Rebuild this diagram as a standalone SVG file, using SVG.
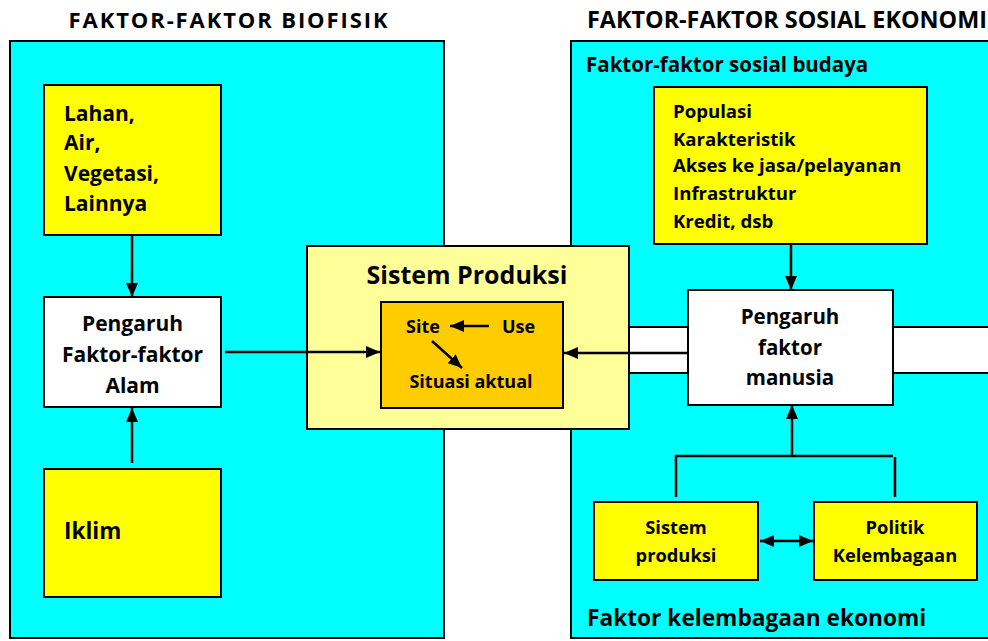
<svg xmlns="http://www.w3.org/2000/svg" width="988" height="641" viewBox="0 0 988 641">
<style>
text{font-family:"Open Sans","Noto Sans","Liberation Sans",sans-serif;font-weight:bold;fill:#000}
.panel{fill:#00FFFF;stroke:#000;stroke-width:2}
.yel{fill:#FFFF00;stroke:#000;stroke-width:2}
.wht{fill:#FFFFFF;stroke:#000;stroke-width:2}
.c{text-anchor:middle}
.ln{fill:none;stroke:#000;stroke-width:2.5}
</style>
<defs>
<marker id="ah" viewBox="0 0 14 12" refX="14" refY="6" markerWidth="14" markerHeight="12" markerUnits="userSpaceOnUse" orient="auto-start-reverse">
<path d="M0,0 L14,6 L0,12 Z" fill="#000"/>
</marker>
</defs>
<rect width="988" height="641" fill="#fff"/>
<text id="title-left" x="229" y="28" class="c" font-size="22" letter-spacing="1.9">FAKTOR-FAKTOR BIOFISIK</text>
<text id="title-right" x="787" y="28" class="c" font-size="23.4">FAKTOR-FAKTOR SOSIAL EKONOMI</text>
<g id="panel-biofisik"><rect class="panel" x="10" y="41" width="434" height="597"/></g>
<g id="panel-sosial"><rect class="panel" x="571" y="41" width="430" height="597"/>
<text x="586" y="72" font-size="20.5">Faktor-faktor sosial budaya</text>
<text x="587" y="626" font-size="22.7">Faktor kelembagaan ekonomi</text></g>
<g id="band"><rect class="wht" x="620" y="327" width="390" height="46"/></g>
<g id="lahan"><rect class="yel" x="44" y="85" width="177" height="150"/>
<text x="64" y="121" font-size="21">Lahan,</text>
<text x="64" y="150" font-size="21">Air,</text>
<text x="64" y="181" font-size="21">Vegetasi,</text>
<text x="64" y="211" font-size="21">Lainnya</text></g>
<g id="alam"><rect class="wht" x="44" y="297" width="177" height="110"/>
<text x="132.5" y="331" class="c" font-size="21">Pengaruh</text>
<text x="132.5" y="362" class="c" font-size="21">Faktor-faktor</text>
<text x="132.5" y="393" class="c" font-size="21">Alam</text></g>
<g id="iklim"><rect class="yel" x="44" y="469" width="177" height="128"/>
<text x="64" y="539" font-size="22.5">Iklim</text></g>
<g id="sistem-produksi"><rect x="307" y="246" width="322" height="183" fill="#FFFF99" stroke="#000" stroke-width="2"/>
<text x="467" y="284" class="c" font-size="25">Sistem Produksi</text></g>
<g id="situasi"><rect x="381" y="302" width="182" height="106" fill="#FFCC00" stroke="#000" stroke-width="2"/>
<text x="406" y="333" font-size="18">Site</text>
<text x="502" y="333" font-size="18">Use</text>
<text x="471" y="388" class="c" font-size="18">Situasi aktual</text></g>
<g id="populasi"><rect class="yel" x="654" y="87" width="273" height="157"/>
<text x="673" y="118" font-size="18.6">Populasi</text>
<text x="673" y="146" font-size="18.6">Karakteristik</text>
<text x="673" y="172" font-size="18.6">Akses ke jasa/pelayanan</text>
<text x="673" y="200" font-size="18.6">Infrastruktur</text>
<text x="673" y="228" font-size="18.6">Kredit, dsb</text></g>
<g id="manusia"><rect class="wht" x="688" y="290" width="205" height="115"/>
<text x="790" y="324" class="c" font-size="20.5">Pengaruh</text>
<text x="790" y="355" class="c" font-size="20.5">faktor</text>
<text x="790" y="385" class="c" font-size="20.5">manusia</text></g>
<g id="sistem-produksi-2"><rect class="yel" x="594" y="502" width="164" height="78"/>
<text x="676" y="534" class="c" font-size="18.3">Sistem</text>
<text x="676" y="562" class="c" font-size="18.3">produksi</text></g>
<g id="politik"><rect class="yel" x="814" y="502" width="163" height="78"/>
<text x="895" y="534" class="c" font-size="18.3">Politik</text>
<text x="895" y="562" class="c" font-size="18.3">Kelembagaan</text></g>
<g id="connectors">
<line class="ln" x1="132" y1="235" x2="132" y2="297" marker-end="url(#ah)"/>
<line class="ln" x1="132" y1="463" x2="132" y2="408" marker-end="url(#ah)"/>
<line class="ln" x1="225" y1="352" x2="380" y2="352" marker-end="url(#ah)"/>
<line class="ln" x1="489" y1="326" x2="450" y2="326" marker-end="url(#ah)"/>
<line class="ln" x1="432" y1="341" x2="462" y2="368" marker-end="url(#ah)"/>
<line class="ln" x1="688" y1="353" x2="564" y2="353" marker-end="url(#ah)"/>
<line class="ln" x1="791" y1="244" x2="791" y2="290" marker-end="url(#ah)"/>
<line class="ln" x1="792" y1="456" x2="792" y2="405" marker-end="url(#ah)"/>
<polyline class="ln" points="676,497 676,456 893,456"/>
<line class="ln" x1="895" y1="457" x2="895" y2="497"/>
<line class="ln" x1="760" y1="541" x2="813" y2="541" marker-start="url(#ah)" marker-end="url(#ah)"/>
</g>
</svg>
